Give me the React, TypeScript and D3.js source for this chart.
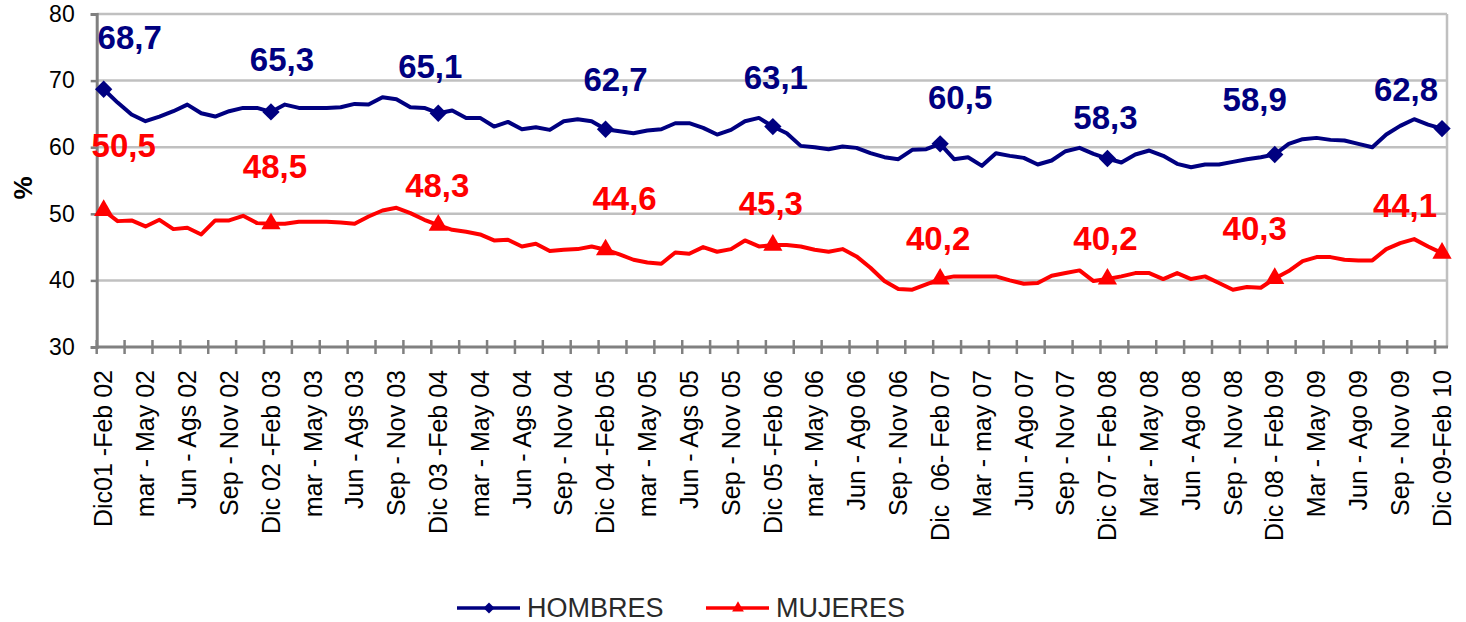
import React, { useEffect, useRef } from 'react';
import * as d3 from 'd3';

// monthly rolling quarters, Dic01-Feb02 .. Dic09-Feb10 (97 points)
const hombres = [
    68.7, 66.7, 64.9, 63.9, 64.6, 65.4, 66.4, 65.1, 64.6, 65.4, 65.9, 65.9, 65.3,
    66.4, 65.9, 65.9, 65.9, 66.0, 66.5, 66.4, 67.5, 67.2, 66.0, 65.9, 65.1,
    65.5, 64.4, 64.4, 63.1, 63.8, 62.7, 63.0, 62.6, 63.9, 64.2, 63.9, 62.7,
    62.4, 62.1, 62.5, 62.7, 63.6, 63.6, 62.9, 61.9, 62.6, 63.9, 64.4, 63.1,
    62.1, 60.2, 60.0, 59.7, 60.1, 59.9, 59.1, 58.5, 58.2, 59.6, 59.7, 60.5,
    58.2, 58.5, 57.2, 59.1, 58.7, 58.4, 57.4, 58.0, 59.4, 59.9, 59.0, 58.3,
    57.7, 58.9, 59.5, 58.7, 57.5, 57.0, 57.4, 57.4, 57.8, 58.2, 58.5, 58.9,
    60.5, 61.2, 61.4, 61.1, 61.0, 60.5, 60.0, 61.9, 63.2, 64.2, 63.4, 62.8
];

const mujeres = [
    50.5, 48.9, 49.0, 48.1, 49.1, 47.7, 47.9, 46.9, 49.0, 49.0, 49.7, 48.6, 48.5,
    48.5, 48.8, 48.8, 48.8, 48.7, 48.5, 49.6, 50.5, 50.9, 50.1, 49.1, 48.3,
    47.6, 47.3, 46.9, 46.0, 46.1, 45.1, 45.5, 44.4, 44.6, 44.7, 45.1, 44.6,
    43.9, 43.1, 42.7, 42.5, 44.2, 44.0, 45.0, 44.3, 44.7, 46.0, 45.1, 45.3,
    45.3, 45.1, 44.6, 44.3, 44.7, 43.6, 41.9, 39.9, 38.7, 38.6, 39.4, 40.2,
    40.6, 40.6, 40.6, 40.6, 40.0, 39.5, 39.6, 40.7, 41.1, 41.5, 39.9, 40.2,
    40.6, 41.1, 41.1, 40.2, 41.1, 40.2, 40.6, 39.6, 38.6, 39.0, 38.9, 40.3,
    41.4, 42.9, 43.5, 43.5, 43.1, 43.0, 43.0, 44.7, 45.6, 46.2, 45.1, 44.1
];

// one label every 3 periods
const tickLabels = [
    'Dic01 -Feb 02', 'mar - May 02', 'Jun - Ags 02', 'Sep - Nov 02',
    'Dic 02 -Feb 03', 'mar - May 03', 'Jun - Ags 03', 'Sep - Nov 03',
    'Dic 03 -Feb 04', 'mar - May 04', 'Jun - Ags 04', 'Sep - Nov 04',
    'Dic 04 -Feb 05', 'mar - May 05', 'Jun - Ags 05', 'Sep - Nov 05',
    'Dic 05 -Feb 06', 'mar - May 06', 'Jun - Ago 06', 'Sep - Nov 06',
    'Dic  06- Feb 07', 'Mar - may 07', 'Jun - Ago 07', 'Sep - Nov 07',
    'Dic 07 - Feb 08', 'Mar - May 08', 'Jun - Ago 08', 'Sep - Nov 08',
    'Dic 08 - Feb 09', 'Mar - May 09', 'Jun - Ago 09', 'Sep - Nov 09',
    'Dic 09-Feb 10'
];

const yTicks = [30, 40, 50, 60, 70, 80];

// markers + data labels only on the Dic-Feb quarters
const markerEvery = 12;

// hand placed label offsets (text centre relative to the point)
const hombresLabelOffsets = [[26, -52], [11, -53], [-8, -47], [10, -50], [3, -50], [20, -47], [-2, -42], [-20, -56], [-36, -40]];
const mujeresLabelOffsets = [[20, -65], [4, -58], [-1, -40], [19, -52], [-2, -42], [-2, -41], [-2, -41], [-20, -50], [-37, -48]];

const W = 1466;
const H = 622;
const FONT = '"Liberation Sans", Arial, sans-serif';
const BLUE = '#000080';
const RED = '#ff0000';

const App = () => {
    const svgRef = useRef<SVGSVGElement>(null);

    useEffect(() => {
        const svg = d3.select(svgRef.current);
        svg.selectAll('*').remove();

        const left = 96.7, right = 1449, top = 14, bottom = 347;
        const idx = d3.range(hombres.length);

        const x = d3.scalePoint<number>().domain(idx).range([left, right]).padding(0.5);
        const step = x.step();
        const y = d3.scaleLinear().domain([30, 80]).range([bottom, top]);

        const fmt = (v: number) => d3.format('.1f')(v).replace('.', ',');

        // excel style diamond = square turned 45deg
        const marker = (kind: string, size: number) =>
            kind === 'diamond'
                ? { d: d3.symbol().type(d3.symbolSquare).size(size)(), rot: 45 }
                : { d: d3.symbol().type(d3.symbolTriangle).size(size)(), rot: 0 };

        // gridlines
        svg.append('g')
            .selectAll('line')
            .data(yTicks.slice(1))
            .enter()
            .append('line')
            .attr('x1', left).attr('x2', right - 2)
            .attr('y1', d => y(d)).attr('y2', d => y(d))
            .attr('stroke', '#c0c0c0')
            .attr('stroke-width', 2.5);

        // right border
        svg.append('line')
            .attr('x1', right - 2).attr('x2', right - 2)
            .attr('y1', top).attr('y2', bottom)
            .attr('stroke', '#c0c0c0')
            .attr('stroke-width', 2.5);

        // y axis
        const yAxis = svg.append('g')
            .attr('transform', `translate(${left},0)`)
            .call(d3.axisLeft(y).tickValues(yTicks).tickSize(6).tickPadding(16));
        yAxis.select('.domain').attr('stroke', '#808080').attr('stroke-width', 3);
        yAxis.selectAll('.tick line').attr('stroke', '#808080').attr('stroke-width', 2.5);
        yAxis.selectAll('.tick text')
            .style('font-family', FONT)
            .style('font-size', '23px')
            .attr('fill', '#000');

        // x axis: ticks every 2 periods on the category boundaries
        const boundaries = d3.range(0, hombres.length, 2).map(i => x(i)! - step / 2);
        svg.append('line')
            .attr('x1', left).attr('x2', right - 1)
            .attr('y1', bottom).attr('y2', bottom)
            .attr('stroke', '#808080')
            .attr('stroke-width', 3);
        svg.append('g')
            .selectAll('line')
            .data(boundaries)
            .enter()
            .append('line')
            .attr('x1', d => d).attr('x2', d => d)
            .attr('y1', bottom - 7).attr('y2', bottom + 7)
            .attr('stroke', '#808080')
            .attr('stroke-width', 2.5);

        svg.append('g')
            .selectAll('text')
            .data(tickLabels)
            .enter()
            .append('text')
            .attr('transform', (d, i) => `translate(${x(i * 3)},370) rotate(-90)`)
            .attr('dy', '0.35em')
            .attr('text-anchor', 'end')
            .style('font-family', FONT)
            .style('font-size', '25px')
            .attr('fill', '#000')
            .attr('xml:space', 'preserve')
            .text(d => d);

        // y title
        svg.append('text')
            .attr('transform', 'translate(23,188) rotate(-90)')
            .attr('dy', '0.35em')
            .attr('text-anchor', 'middle')
            .style('font-family', FONT)
            .style('font-size', '26px')
            .style('font-weight', 'bold')
            .text('%');

        const line = d3.line<number>()
            .x((d, i) => x(i)!)
            .y(d => y(d));

        const series = [
            { name: 'HOMBRES', values: hombres, color: BLUE, shape: 'diamond', size: 150, offsets: hombresLabelOffsets },
            { name: 'MUJERES', values: mujeres, color: RED, shape: 'triangle', size: 160, offsets: mujeresLabelOffsets }
        ];

        series.forEach(s => {
            svg.append('path')
                .datum(s.values)
                .attr('fill', 'none')
                .attr('stroke', s.color)
                .attr('stroke-width', 4)
                .attr('stroke-linejoin', 'round')
                .attr('d', line);

            const pts = s.values
                .map((v, i) => ({ v, i }))
                .filter(p => p.i % markerEvery === 0);
            const m = marker(s.shape, s.size);

            svg.append('g')
                .selectAll('path')
                .data(pts)
                .enter()
                .append('path')
                .attr('transform', p => `translate(${x(p.i)},${y(p.v)}) rotate(${m.rot})`)
                .attr('d', m.d)
                .attr('fill', s.color);

            svg.append('g')
                .selectAll('text')
                .data(pts)
                .enter()
                .append('text')
                .attr('x', (p, k) => x(p.i)! + s.offsets[k][0])
                .attr('y', (p, k) => y(p.v) + s.offsets[k][1] + 12)
                .attr('text-anchor', 'middle')
                .style('font-family', FONT)
                .style('font-size', '33px')
                .style('font-weight', 'bold')
                .attr('fill', s.color)
                .text(p => fmt(p.v));
        });

        // legend
        const legend = [
            { name: 'HOMBRES', color: BLUE, shape: 'diamond', x0: 457 },
            { name: 'MUJERES', color: RED, shape: 'triangle', x0: 706 }
        ];
        const lg = svg.append('g').attr('transform', 'translate(0,608)');
        legend.forEach(l => {
            const m = marker(l.shape, 60);
            lg.append('line')
                .attr('x1', l.x0).attr('x2', l.x0 + 63)
                .attr('y1', 0).attr('y2', 0)
                .attr('stroke', l.color)
                .attr('stroke-width', 3.5);
            lg.append('path')
                .attr('transform', `translate(${l.x0 + 32},0) rotate(${m.rot})`)
                .attr('d', m.d)
                .attr('fill', l.color);
            lg.append('text')
                .attr('x', l.x0 + 70)
                .attr('y', 9)
                .style('font-family', FONT)
                .style('font-size', '27px')
                .attr('fill', '#2a2a2a')
                .text(l.name);
        });
    }, []);

    return (
        <svg
            ref={svgRef}
            width={W}
            height={H}
            style={{ position: 'absolute', left: 0, top: 0, background: '#fff' }}
        />
    );
};

export default App;
